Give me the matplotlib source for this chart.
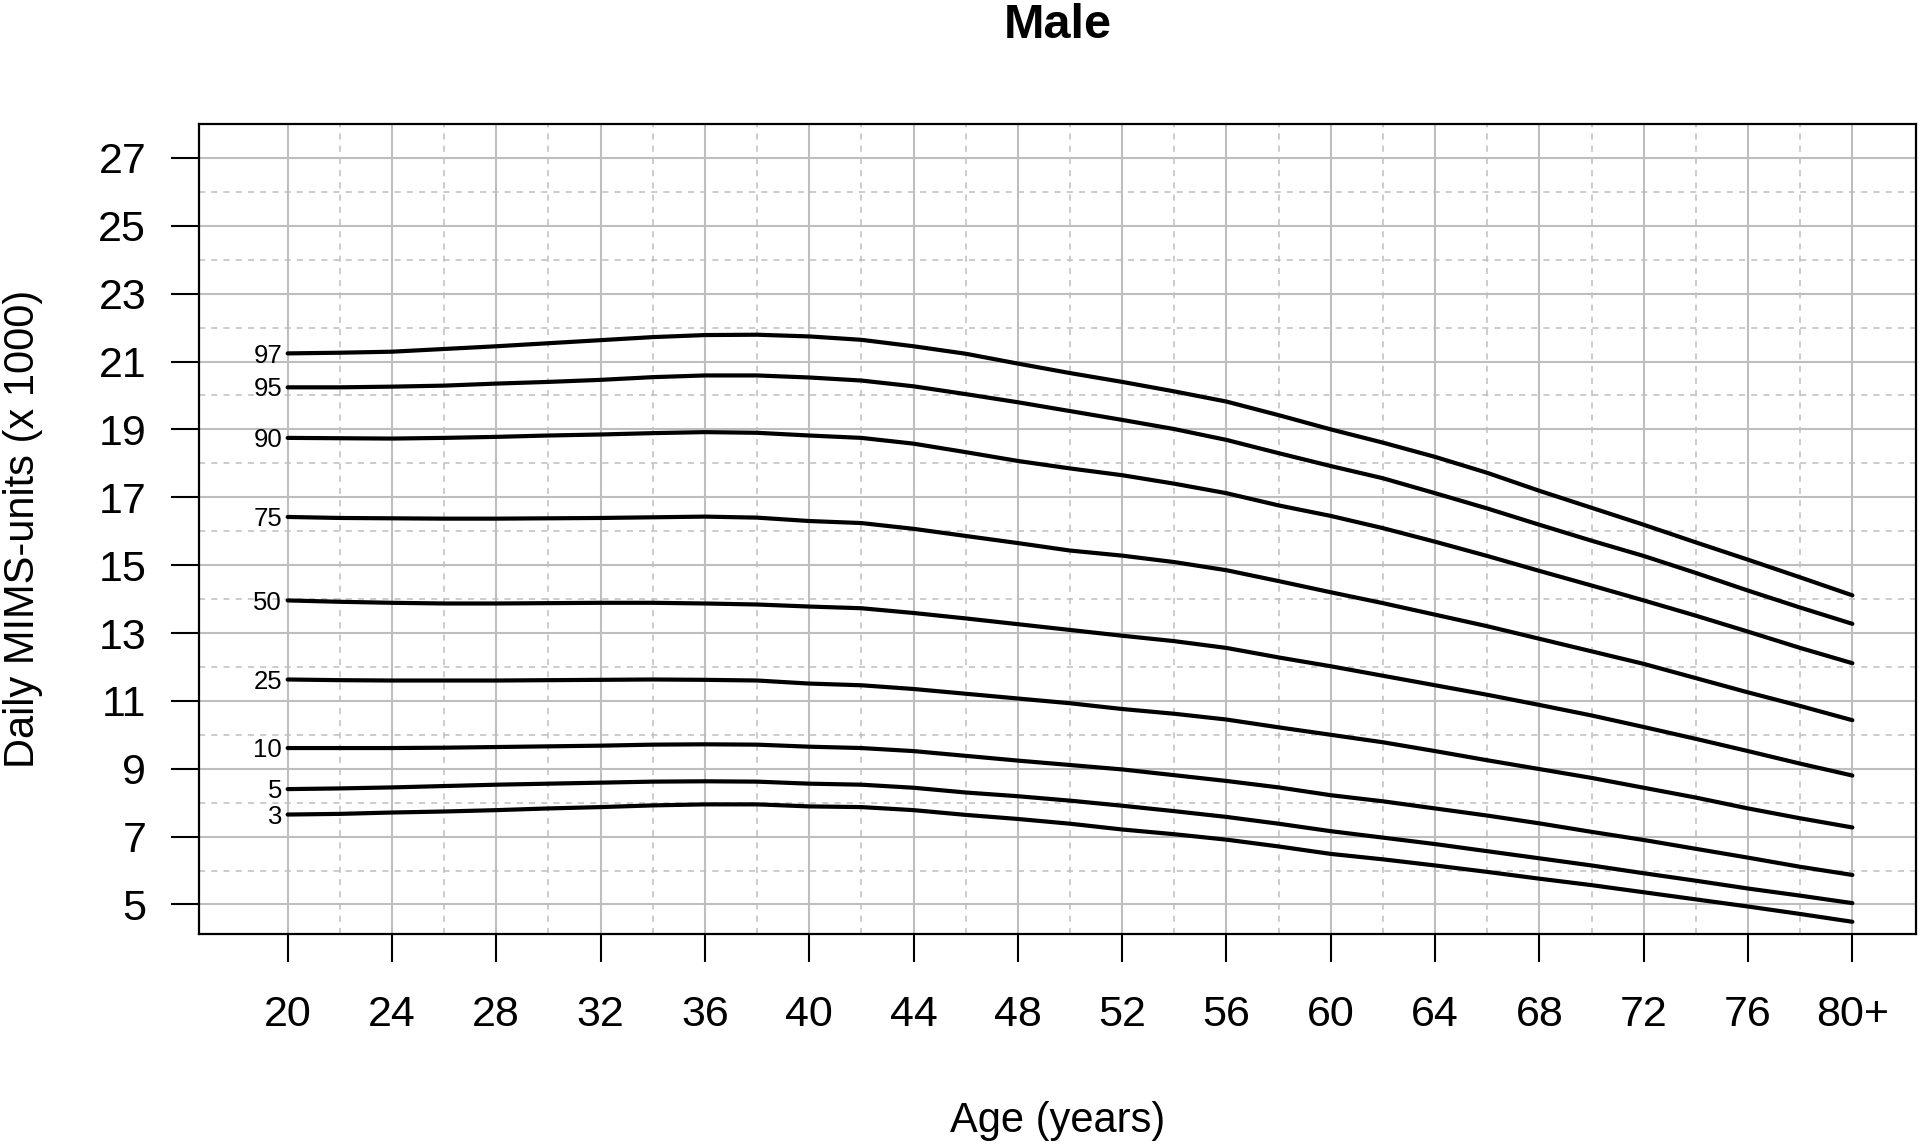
import numpy as np
import matplotlib
matplotlib.use("Agg")
import matplotlib.pyplot as plt

plt.rcParams["font.family"] = ["Liberation Sans", "DejaVu Sans"]

ages = list(range(20, 81, 2))
tick_ages = list(range(20, 81, 4))
tick_labels = [str(a) for a in tick_ages[:-1]] + ["80+"]
y_ticks = list(range(5, 28, 2))

percentile_names = ["97", "95", "90", "75", "50", "25", "10", "5", "3"]

p97 = [21.24, 21.26, 21.29, 21.37, 21.45, 21.54, 21.63, 21.72, 21.78, 21.79, 21.74,
       21.64, 21.45, 21.23, 20.94, 20.66, 20.40, 20.12, 19.82, 19.42, 19.00,
       18.61, 18.19, 17.72, 17.19, 16.69, 16.19, 15.67, 15.16, 14.64, 14.11]
p95 = [20.24, 20.24, 20.26, 20.29, 20.35, 20.40, 20.46, 20.54, 20.59, 20.59, 20.53,
       20.44, 20.27, 20.04, 19.80, 19.54, 19.28, 19.01, 18.69, 18.30, 17.92,
       17.56, 17.12, 16.67, 16.19, 15.72, 15.27, 14.77, 14.25, 13.75, 13.27]
p90 = [18.75, 18.74, 18.73, 18.75, 18.78, 18.82, 18.85, 18.89, 18.92, 18.90, 18.82,
       18.75, 18.58, 18.33, 18.07, 17.85, 17.65, 17.40, 17.12, 16.76, 16.45,
       16.09, 15.69, 15.27, 14.83, 14.40, 13.96, 13.51, 13.04, 12.56, 12.11]
p75 = [16.42, 16.39, 16.38, 16.37, 16.37, 16.38, 16.39, 16.41, 16.43, 16.40, 16.30,
       16.24, 16.07, 15.86, 15.65, 15.43, 15.28, 15.09, 14.85, 14.53, 14.20,
       13.88, 13.54, 13.20, 12.83, 12.46, 12.09, 11.67, 11.25, 10.85, 10.43]
p50 = [13.96, 13.92, 13.89, 13.87, 13.87, 13.88, 13.89, 13.89, 13.87, 13.84, 13.78,
       13.73, 13.59, 13.43, 13.26, 13.09, 12.92, 12.76, 12.56, 12.28, 12.02,
       11.74, 11.46, 11.18, 10.88, 10.57, 10.23, 9.88, 9.52, 9.15, 8.80]
p25 = [11.63, 11.61, 11.60, 11.60, 11.60, 11.61, 11.62, 11.63, 11.62, 11.60, 11.51,
       11.46, 11.35, 11.21, 11.07, 10.93, 10.76, 10.62, 10.45, 10.22, 10.00,
       9.78, 9.52, 9.25, 8.99, 8.73, 8.44, 8.15, 7.83, 7.54, 7.27]
p10 = [9.61, 9.61, 9.61, 9.62, 9.64, 9.66, 9.68, 9.71, 9.72, 9.71, 9.65,
       9.61, 9.52, 9.38, 9.24, 9.11, 8.98, 8.81, 8.64, 8.45, 8.22,
       8.04, 7.83, 7.62, 7.39, 7.14, 6.90, 6.64, 6.38, 6.11, 5.87]
p5 = [8.40, 8.42, 8.45, 8.49, 8.53, 8.56, 8.59, 8.62, 8.63, 8.62, 8.56,
      8.53, 8.44, 8.30, 8.19, 8.06, 7.91, 7.75, 7.58, 7.38, 7.16,
      6.97, 6.78, 6.57, 6.36, 6.15, 5.92, 5.70, 5.47, 5.26, 5.04]
p3 = [7.65, 7.67, 7.71, 7.74, 7.78, 7.83, 7.87, 7.92, 7.95, 7.95, 7.89,
      7.87, 7.78, 7.64, 7.52, 7.38, 7.21, 7.07, 6.91, 6.71, 6.49,
      6.33, 6.15, 5.96, 5.76, 5.57, 5.36, 5.15, 4.94, 4.72, 4.49]

curves = [p97, p95, p90, p75, p50, p25, p10, p5, p3]


def draw_grid(ax):
    grid_col = "#bebebe"
    for a in tick_ages:
        ax.axvline(a, color=grid_col, lw=1.5, zorder=1)
    for a in range(22, 80, 4):
        ax.axvline(a, color=grid_col, lw=1.1, ls=(0, (4, 4)), zorder=1)
    for v in y_ticks:
        ax.axhline(v, color=grid_col, lw=1.5, zorder=1)
    for v in range(6, 27, 2):
        ax.axhline(v, color=grid_col, lw=1.1, ls=(0, (4, 4)), zorder=1)


def main():
    fig = plt.figure(figsize=(19.2, 11.44), dpi=100)
    ax = fig.add_axes([199 / 1920, 1 - 934 / 1144, (1916 - 199) / 1920, (934 - 124) / 1144])

    draw_grid(ax)

    for name, vals in zip(percentile_names, curves):
        ax.plot(ages, vals, color="black", lw=3.0, solid_capstyle="round",
                solid_joinstyle="round", zorder=3)
        ax.annotate(name, xy=(ages[0], vals[0]), xytext=(-4, -6.6),
                    textcoords="offset points", ha="right", va="baseline",
                    fontsize=18.5, zorder=4)

    ax.set_xlim(16.6, 82.44)
    ax.set_ylim(4.13, 28.0)
    ax.set_xticks(tick_ages)
    ax.set_xticklabels(tick_labels)
    ax.set_yticks(y_ticks)
    ax.tick_params(axis="both", length=20, width=1.5, labelsize=31, direction="out")
    ax.tick_params(axis="x", pad=24)
    ax.tick_params(axis="y", pad=18)
    for s in ax.spines.values():
        s.set_linewidth(1.6)

    fig.text(1057.5 / 1920, 1 - 38 / 1144, "Male", ha="center", va="baseline",
             fontsize=35, fontweight="bold")
    fig.text(1057.5 / 1920, 1 - 1132 / 1144, "Age (years)", ha="center", va="baseline",
             fontsize=30)
    fig.text(23 / 1920, 1 - 529 / 1144, "Daily MIMS-units (x 1000)", ha="center",
             va="center", rotation=90, fontsize=30)

    fig.savefig("out.png", dpi=100)


if __name__ == "__main__":
    main()
